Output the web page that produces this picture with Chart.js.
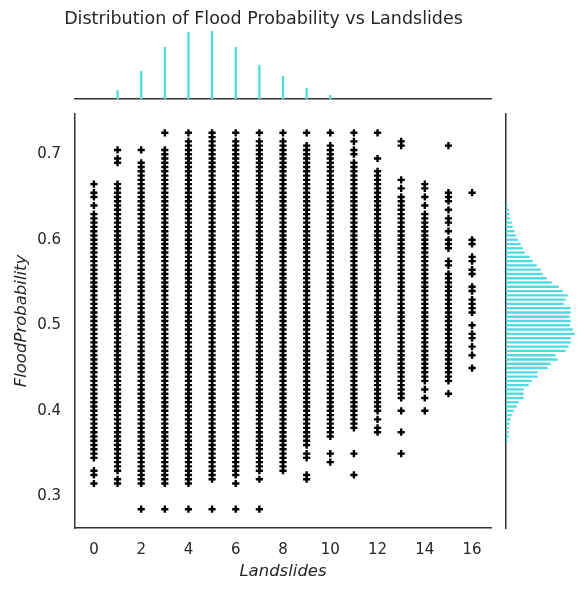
<!DOCTYPE html>
<html>
<head>
<meta charset="utf-8">
<script src="https://cdn.jsdelivr.net/npm/chart.js@4.4.1/dist/chart.umd.min.js"></script>
<style>
  body { margin: 0; background: #fff; }
  #wrap { position: relative; width: 587px; height: 590px; }
  canvas { position: absolute; top: 0; }
</style>
</head>
<body>
<div id="wrap">
  <canvas id="mainChart" width="587" height="590" style="left:0"></canvas>
  <canvas id="topChart" width="527" height="110" style="left:0"></canvas>
  <canvas id="rightChart" width="147" height="590" style="left:440px"></canvas>
</div>
<script>
// Landslides categories and the FloodProbability values (x1000) seen in each column
const landslides = [0, 1, 2, 3, 4, 5, 6, 7, 8, 9, 10, 11, 12, 13, 14, 15, 16];
const floodByLandslides = [
  [315,325,330,345,350,355,360,365,370,375,380,385,390,395,400,405,410,415,420,425,430,435,440,445,450,455,460,465,470,475,480,485,490,495,500,505,510,515,520,525,530,535,540,545,550,555,560,565,570,575,580,585,590,595,600,605,610,615,620,625,630,640,650,655,665],
  [315,320,330,335,340,345,350,355,360,365,370,375,380,385,390,395,400,405,410,415,420,425,430,435,440,445,450,455,460,465,470,475,480,485,490,495,500,505,510,515,520,525,530,535,540,545,550,555,560,565,570,575,580,585,590,595,600,605,610,615,620,625,630,635,640,645,650,655,660,665,690,695,705],
  [285,315,320,325,330,335,340,345,350,355,360,365,370,375,380,385,390,395,400,405,410,415,420,425,430,435,440,445,450,455,460,465,470,475,480,485,490,495,500,505,510,515,520,525,530,535,540,545,550,555,560,565,570,575,580,585,590,595,600,605,610,615,620,625,630,635,640,645,650,655,660,665,670,675,680,685,690,705],
  [285,315,320,325,330,335,340,345,350,355,360,365,370,375,380,385,390,395,400,405,410,415,420,425,430,435,440,445,450,455,460,465,470,475,480,485,490,495,500,505,510,515,520,525,530,535,540,545,550,555,560,565,570,575,580,585,590,595,600,605,610,615,620,625,630,635,640,645,650,655,660,665,670,675,680,685,690,695,700,705,725],
  [285,315,320,325,330,335,340,345,350,355,360,365,370,375,380,385,390,395,400,405,410,415,420,425,430,435,440,445,450,455,460,465,470,475,480,485,490,495,500,505,510,515,520,525,530,535,540,545,550,555,560,565,570,575,580,585,590,595,600,605,610,615,620,625,630,635,640,645,650,655,660,665,670,675,680,685,690,695,700,705,710,715,725],
  [285,320,325,330,335,340,345,350,355,360,365,370,375,380,385,390,395,400,405,410,415,420,425,430,435,440,445,450,455,460,465,470,475,480,485,490,495,500,505,510,515,520,525,530,535,540,545,550,555,560,565,570,575,580,585,590,595,600,605,610,615,620,625,630,635,640,645,650,655,660,665,670,675,680,685,690,695,700,705,710,715,720,725],
  [285,315,325,330,335,340,345,350,355,360,365,370,375,380,385,390,395,400,405,410,415,420,425,430,435,440,445,450,455,460,465,470,475,480,485,490,495,500,505,510,515,520,525,530,535,540,545,550,555,560,565,570,575,580,585,590,595,600,605,610,615,620,625,630,635,640,645,650,655,660,665,670,675,680,685,690,695,700,705,710,715,725],
  [285,320,330,335,340,345,350,355,360,365,370,375,380,385,390,395,400,405,410,415,420,425,430,435,440,445,450,455,460,465,470,475,480,485,490,495,500,505,510,515,520,525,530,535,540,545,550,555,560,565,570,575,580,585,590,595,600,605,610,615,620,625,630,635,640,645,650,655,660,665,670,675,680,685,690,695,700,705,710,715,725],
  [330,335,340,345,350,355,360,365,370,375,380,385,390,395,400,405,410,415,420,425,430,435,440,445,450,455,460,465,470,475,480,485,490,495,500,505,510,515,520,525,530,535,540,545,550,555,560,565,570,575,580,585,590,595,600,605,610,615,620,625,630,635,640,645,650,655,660,665,670,675,680,685,690,695,700,705,710,715,725],
  [320,325,345,350,360,365,370,375,380,385,390,395,400,405,410,415,420,425,430,435,440,445,450,455,460,465,470,475,480,485,490,495,500,505,510,515,520,525,530,535,540,545,550,555,560,565,570,575,580,585,590,595,600,605,610,615,620,625,630,635,640,645,650,655,660,665,670,675,680,685,690,695,700,705,710,725],
  [340,350,370,375,380,385,390,395,400,405,410,415,420,425,430,435,440,445,450,455,460,465,470,475,480,485,490,495,500,505,510,515,520,525,530,535,540,545,550,555,560,565,570,575,580,585,590,595,600,605,610,615,620,625,630,635,640,645,650,655,660,665,670,675,680,685,690,695,700,705,710,725],
  [325,350,380,385,390,395,400,405,410,415,420,425,430,435,440,445,450,455,460,465,470,475,480,485,490,495,500,505,510,515,520,525,530,535,540,545,550,555,560,565,570,575,580,585,590,595,600,605,610,615,620,625,630,635,640,645,650,655,660,665,670,675,680,685,690,700,705,715,725],
  [375,380,390,400,405,410,415,420,425,430,435,440,445,450,455,460,465,470,475,480,485,490,495,500,505,510,515,520,525,530,535,540,545,550,555,560,565,570,575,580,585,590,595,600,605,610,615,620,625,630,635,640,645,650,655,660,665,670,675,680,695,725],
  [350,375,400,415,420,425,430,435,440,445,450,455,460,465,470,475,480,485,490,495,500,505,510,515,520,525,530,535,540,545,550,555,560,565,570,575,580,585,590,595,600,605,610,615,620,625,630,635,640,645,650,660,670,710,715],
  [400,415,425,435,440,445,450,455,460,465,470,475,480,485,490,495,500,505,510,515,520,525,530,535,540,545,550,555,560,565,570,575,580,585,590,595,600,605,610,615,620,625,630,640,650,660,665],
  [420,435,440,445,450,455,460,465,470,475,480,485,490,495,500,505,510,515,520,525,530,535,540,545,550,555,560,570,575,590,595,600,610,620,625,635,645,650,655,710],
  [450,465,475,485,490,500,515,520,525,530,540,545,560,565,575,580,595,600,655]
];
const xTicks = [0, 2, 4, 6, 8, 10, 12, 14, 16];
const yTicks = [0.3, 0.4, 0.5, 0.6, 0.7];

// top marginal: Landslides histogram
const topBins = [1, 2, 3, 4, 5, 6, 7, 8, 9, 10];
const topCounts = [870, 2770, 5170, 6670, 6770, 5170, 3370, 2270, 1070, 370];

// right marginal: FloodProbability histogram
const floodBins = [0.640,0.635,0.630,0.625,0.620,0.615,0.610,0.605,0.600,0.595,0.590,0.585,0.580,0.575,0.570,0.565,0.560,0.555,0.550,0.545,0.540,0.535,0.530,0.525,0.520,0.515,0.510,0.505,0.500,0.495,0.490,0.485,0.480,0.475,0.470,0.465,0.460,0.455,0.450,0.445,0.440,0.435,0.430,0.425,0.420,0.415,0.410,0.405,0.400,0.395,0.390,0.385,0.380,0.375,0.370,0.365];
const floodCounts = [4,7,10,10,16,19,25,28,34,43,49,55,70,79,91,103,109,121,136,157,169,184,178,172,193,193,190,193,190,199,205,193,193,187,178,148,154,133,124,94,94,76,67,52,52,52,37,31,22,16,13,10,7,7,7,4];

Chart.defaults.font.family = "'DejaVu Sans', sans-serif";
Chart.defaults.color = '#262626';

const histColor = '#4fdbe0';
const spine = { display: true, color: '#333333', width: 1.5 };
const noGrid = { display: false, drawTicks: false };
const yMin = 0.263, yMax = 0.747;
const xMin = -0.8, xMax = 16.8;

// Scatter
const points = [];
landslides.forEach((ls, i) => {
    floodByLandslides[i].forEach(v => points.push({ x: ls, y: v / 1000 }));
});

new Chart(document.getElementById('mainChart'), {
    type: 'scatter',
    data: {
        datasets: [{
            data: points,
            pointStyle: 'cross',
            radius: 3.6,
            borderWidth: 2.4,
            borderColor: '#000',
            backgroundColor: '#000'
        }]
    },
    options: {
        responsive: false,
        animation: false,
        layout: { padding: { top: 114, right: 96, bottom: 7, left: 0 } },
        plugins: { legend: { display: false }, tooltip: { enabled: false } },
        scales: {
            x: {
                type: 'linear', min: xMin, max: xMax,
                afterBuildTicks: s => { s.ticks = xTicks.map(v => ({ value: v })); },
                afterFit: s => { s.height = 55; },
                grid: noGrid, border: spine,
                ticks: { padding: 13, font: { size: 15 }, color: '#262626' },
                title: { display: true, text: 'Landslides', font: { size: 16.5, style: 'italic' }, padding: { top: 0, bottom: 1 } }
            },
            y: {
                type: 'linear', min: yMin, max: yMax,
                afterBuildTicks: s => { s.ticks = yTicks.map(v => ({ value: v })); },
                afterFit: s => { s.width = 75; },
                grid: noGrid, border: spine,
                ticks: { padding: 14, font: { size: 15 }, color: '#262626', callback: v => v.toFixed(1) },
                title: { display: true, text: 'FloodProbability', font: { size: 16.5, style: 'italic' }, padding: { top: 12, bottom: 0 } }
            }
        }
    }
});

// Top marginal histogram (also carries the figure title)
new Chart(document.getElementById('topChart'), {
    type: 'bar',
    data: {
        datasets: [{
            data: topBins.map((b, i) => ({ x: b, y: topCounts[i] })),
            backgroundColor: histColor,
            barThickness: 1.6
        }]
    },
    options: {
        responsive: false,
        animation: false,
        layout: { padding: 0 },
        plugins: {
            legend: { display: false }, tooltip: { enabled: false },
            title: {
                display: true, text: 'Distribution of Flood Probability vs Landslides',
                font: { size: 17.5, weight: 'normal' }, color: '#262626',
                padding: { top: 9, bottom: 1 }
            }
        },
        scales: {
            x: {
                type: 'linear', min: xMin, max: xMax, offset: false,
                afterFit: s => { s.height = 11; },
                grid: noGrid, border: spine, ticks: { display: false }
            },
            y: {
                min: 0, max: 6800,
                afterFit: s => { s.width = 75; },
                grid: noGrid, border: { display: false }, ticks: { display: false }
            },
            y2: {
                position: 'right', min: 0, max: 1,
                afterFit: s => { s.width = 36; },
                grid: noGrid, border: { display: false }, ticks: { display: false }
            }
        }
    }
});

// Right marginal histogram
new Chart(document.getElementById('rightChart'), {
    type: 'bar',
    data: {
        datasets: [{
            data: floodBins.map((b, i) => ({ x: floodCounts[i], y: b })),
            backgroundColor: histColor,
            barThickness: 1.7
        }]
    },
    options: {
        indexAxis: 'y',
        responsive: false,
        animation: false,
        layout: { padding: { top: 114, bottom: 62, left: 0, right: 0 } },
        plugins: { legend: { display: false }, tooltip: { enabled: false } },
        scales: {
            y: {
                type: 'linear', min: yMin, max: yMax, offset: false,
                afterFit: s => { s.width = 66; },
                grid: noGrid, border: spine, ticks: { display: false }
            },
            x: {
                type: 'linear', min: 0, max: 243, display: false
            }
        }
    }
});
</script>
</body>
</html>
